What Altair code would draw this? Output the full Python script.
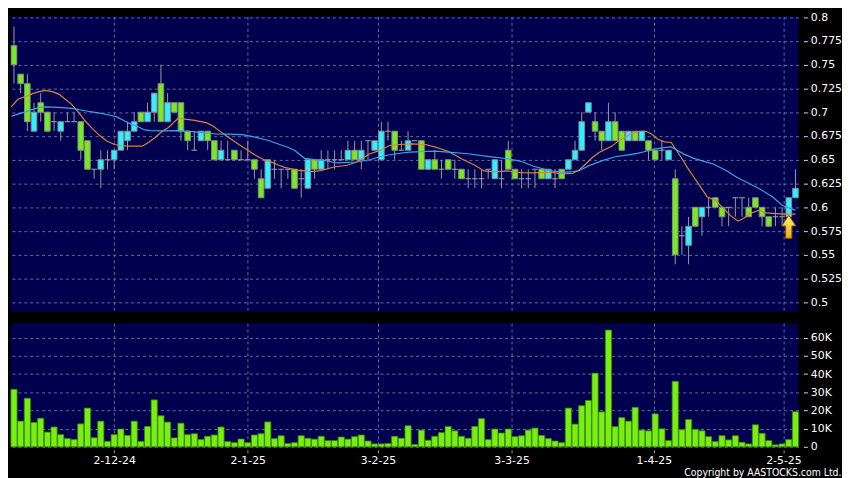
import altair as alt
import pandas as pd

# ---------------- data ----------------
opens = [
    .77, .74, .73, .68, .71, .70, .69, .68, .69, .69,
    .69, .67, .64, .64, .65, .65, .66, .67, .68, .70,
    .69, .70, .73, .69, .71, .71, .68, .66, .67, .68,
    .67, .65, .65, .66, .65, .65, .65, .63, .62, .64,
    .64, .64, .64, .63, .62, .65, .64, .65, .65, .65,
    .65, .66, .65, .67, .66, .65, .68, .68, .66, .66,
    .67, .67, .64, .65, .64, .65, .64, .64, .63, .63,
    .63, .64, .63, .63, .66, .64, .63, .63, .64, .64,
    .63, .63, .64, .64, .65, .66, .70, .69, .68, .67,
    .69, .68, .67, .68, .67, .67, .66, .66, .65, .63,
    .57, .56, .60, .59, .60, .61, .60, .60, .61, .61,
    .60, .61, .60, .59, .59, .59, .59, .61]
closes = [
    .75, .73, .69, .70, .70, .68, .69, .69, .69, .69,
    .66, .64, .64, .65, .65, .66, .68, .68, .69, .69,
    .70, .72, .69, .71, .70, .68, .67, .66, .68, .67,
    .65, .66, .65, .65, .65, .65, .64, .61, .65, .64,
    .64, .64, .62, .63, .65, .64, .65, .65, .65, .65,
    .66, .65, .66, .67, .67, .68, .68, .66, .66, .67,
    .67, .64, .65, .64, .64, .64, .64, .63, .63, .63,
    .63, .64, .65, .63, .64, .63, .63, .63, .64, .63,
    .64, .63, .63, .65, .66, .69, .71, .68, .67, .69,
    .67, .66, .68, .67, .68, .66, .65, .66, .66, .55,
    .57, .58, .58, .60, .60, .60, .59, .60, .61, .61,
    .59, .60, .59, .58, .59, .59, .61, .62]
highs = [
    .79, .74, .74, .71, .72, .70, .70, .69, .70, .70,
    .69, .67, .64, .66, .66, .66, .68, .69, .70, .70,
    .71, .72, .75, .72, .71, .71, .68, .68, .68, .68,
    .67, .67, .67, .66, .66, .67, .65, .64, .65, .65,
    .64, .64, .64, .64, .65, .65, .66, .66, .66, .66,
    .67, .67, .67, .67, .67, .69, .69, .68, .67, .68,
    .67, .67, .65, .66, .65, .65, .65, .64, .64, .64,
    .64, .64, .65, .65, .67, .64, .64, .64, .64, .64,
    .64, .64, .64, .65, .67, .70, .71, .70, .68, .71,
    .70, .68, .68, .68, .68, .67, .66, .67, .66, .64,
    .58, .59, .60, .60, .61, .61, .60, .60, .61, .61,
    .61, .61, .60, .59, .60, .60, .61, .64]
lows = [
    .73, .72, .68, .68, .69, .68, .68, .67, .69, .69,
    .65, .64, .63, .62, .64, .64, .66, .66, .68, .69,
    .69, .69, .69, .69, .70, .67, .66, .66, .67, .66,
    .65, .65, .65, .65, .65, .65, .63, .61, .62, .63,
    .62, .63, .62, .61, .62, .63, .64, .64, .64, .65,
    .65, .65, .64, .65, .66, .65, .67, .65, .66, .66,
    .67, .64, .64, .64, .63, .64, .63, .63, .62, .62,
    .62, .63, .63, .62, .64, .63, .62, .62, .62, .63,
    .63, .62, .63, .64, .65, .66, .70, .67, .66, .67,
    .67, .66, .67, .67, .67, .65, .65, .65, .65, .54,
    .55, .54, .58, .57, .59, .60, .58, .58, .59, .59,
    .59, .60, .58, .58, .58, .58, .59, .61]
vol_k = [
    31.6, 14.1, 26.7, 13.4, 15.7, 8.1, 10.9, 6.7, 4.5, 4.0,
    12.6, 21.3, 5.0, 14.1, 3.0, 6.7, 9.8, 6.3, 14.1, 3.0,
    11.2, 25.8, 17.1, 13.6, 4.9, 13.0, 6.7, 7.2, 4.0, 5.8,
    6.5, 10.9, 2.9, 2.3, 4.3, 2.3, 6.5, 7.2, 13.7, 4.5,
    6.1, 1.8, 2.3, 6.1, 4.7, 4.2, 5.8, 3.4, 3.4, 5.4,
    4.2, 5.6, 6.5, 3.2, 1.6, 1.6, 1.8, 5.8, 4.7, 11.6,
    1.3, 9.2, 3.6, 5.8, 7.8, 11.2, 8.8, 5.8, 4.7, 11.2,
    15.5, 4.0, 9.8, 7.6, 9.8, 5.6, 6.1, 9.2, 10.3, 6.3,
    4.5, 3.2, 2.3, 21.3, 12.5, 22.6, 25.5, 40.5, 19.2, 64.2,
    11.1, 16.1, 14.1, 21.7, 9.2, 8.8, 18.1, 9.9, 3.4, 36.0,
    9.4, 15.0, 9.6, 8.8, 5.6, 2.9, 6.1, 3.8, 6.1, 2.5,
    1.6, 12.1, 7.4, 3.4, 1.1, 1.6, 4.0, 19.3]

# moving averages (position in bars, price)
ma_short_pos = [-0.4, 0.58, 1.81, 2.79, 3.77, 4.75, 5.73, 6.71, 7.69, 8.67,
                9.65, 10.63, 11.86, 12.84, 13.82, 15.04, 16.02, 17.0, 17.99, 19.21,
                20.19, 21.17, 22.15, 23.13, 24.6, 25.58, 26.81, 27.79, 28.77, 29.75,
                30.73, 31.71, 32.69, 33.67, 34.65, 35.63, 36.61, 37.59, 38.57, 39.55,
                40.53, 41.51, 42.49, 43.47, 44.7, 45.92, 47.9, 49.9, 51.3, 53.3,
                54.8, 56.2, 57.7, 59.6, 61.6, 63.1, 65.0, 67.0, 69.0, 70.4,
                71.9, 73.9, 75.8, 77.8, 80.2, 82.2, 83.7, 84.6, 85.6, 86.6,
                87.6, 88.6, 89.6, 90.5, 91.5, 92.5, 93.5, 94.5, 95.4, 96.4,
                97.4, 98.4, 99.9, 100.8, 101.8, 102.8, 103.8, 105.0, 106.0, 107.2,
                108.4, 109.2, 110.2, 111.6, 112.6, 114.1, 115.6, 117.0]
ma_short_val = [0.7056, 0.7136, 0.7167, 0.7195, 0.7216, 0.723, 0.7216, 0.719, 0.7136, 0.708,
                0.700, 0.691, 0.682, 0.6754, 0.670, 0.666, 0.665, 0.6643, 0.6643, 0.6643,
                0.6684, 0.6736, 0.6796, 0.684, 0.6938, 0.6927, 0.6917, 0.6903, 0.689, 0.6858,
                0.6806, 0.6754, 0.6708, 0.666, 0.6615, 0.657, 0.6528, 0.6494, 0.6475, 0.6445,
                0.642, 0.6405, 0.639, 0.6382, 0.6375, 0.6385, 0.6424, 0.6442, 0.6476, 0.6563,
                0.6598, 0.665, 0.666, 0.6667, 0.666, 0.6632, 0.659, 0.6511, 0.6442, 0.6382,
                0.6372, 0.6382, 0.6365, 0.6361, 0.6368, 0.6351, 0.6358, 0.6392, 0.6455, 0.6524,
                0.6576, 0.6611, 0.6646, 0.6698, 0.674, 0.6774, 0.6795, 0.6802, 0.6774, 0.6715,
                0.6688, 0.6681, 0.6524, 0.642, 0.6316, 0.6212, 0.6108, 0.6073, 0.6003, 0.5917,
                0.5854, 0.5882, 0.5934, 0.5969, 0.5941, 0.5934, 0.5927, 0.5927]
ma_long_pos = [-0.4, 0.6, 1.8, 2.8, 3.8, 4.75, 6.7, 8.7, 10.6, 12.6,
               14.6, 15.5, 16.5, 17.5, 18.5, 19.5, 20.4, 22.4, 24.4, 26.3,
               28.3, 30.2, 32.2, 34.2, 36.1, 38.1, 40.0, 41.0, 42.0, 43.5,
               45.4, 46.6, 48.4, 51.3, 53.3, 55.2, 57.2, 59.2, 61.1, 63.1,
               65.0, 68.0, 70.9, 73.9, 75.8, 77.8, 80.2, 82.2, 83.7, 84.6,
               86.1, 88.1, 90.0, 92.0, 93.5, 94.5, 95.9, 97.4, 98.4, 100.3,
               101.8, 103.3, 104.7, 106.7, 108.2, 109.7, 111.6, 113.6, 115.0, 116.3,
               117.0]
ma_long_val = [0.6958, 0.698, 0.7006, 0.703, 0.705, 0.7056, 0.705, 0.7041, 0.7015, 0.6993,
               0.6965, 0.6948, 0.691, 0.6875, 0.685, 0.6816, 0.6806, 0.6803, 0.6806, 0.6799,
               0.6785, 0.6771, 0.677, 0.6764, 0.6737, 0.6702, 0.6655, 0.6632, 0.66, 0.6515,
               0.6498, 0.649, 0.6466, 0.6476, 0.65, 0.6539, 0.6563, 0.658, 0.6585, 0.659,
               0.658, 0.6563, 0.6535, 0.651, 0.6486, 0.6431, 0.6385, 0.6368, 0.6375, 0.6385,
               0.6438, 0.649, 0.6531, 0.6552, 0.6569, 0.6587, 0.6611, 0.6628, 0.6635, 0.6559,
               0.6514, 0.6483, 0.6455, 0.6385, 0.6316, 0.6264, 0.6194, 0.6108, 0.6021, 0.5986,
               0.597]

signal_pos = [116]
signal_price = [0.5794]

date_tick_pos = [15, 35, 54.5, 74.5, 95.8, 115.2]
date_tick_text = ["2-12-24", "2-1-25", "3-2-25", "3-3-25", "1-4-25", "2-5-25"]
price_ticks = [0.5, 0.525, 0.55, 0.575, 0.6, 0.625, 0.65, 0.675, 0.7, 0.725, 0.75, 0.775, 0.8]
vol_ticks = [0, 10, 20, 30, 40, 50, 60]

# ---------------- tables ----------------
df = pd.DataFrame({"i": list(range(len(opens))), "open": opens, "high": highs,
                   "low": lows, "close": closes, "vol": vol_k})
ma_s = pd.DataFrame({"i": ma_short_pos, "v": ma_short_val})
ma_l = pd.DataFrame({"i": ma_long_pos, "v": ma_long_val})
sig = pd.DataFrame({"i": signal_pos, "p": signal_price})

# ---------------- styling ----------------
FONT = "DejaVu Sans"
GRID = "#6a6aa0"
xscale = alt.Scale(domain=[-0.45, 117.45], nice=False, zero=False)
pscale = alt.Scale(domain=[0.4906, 0.8007], nice=False, zero=False)
vscale = alt.Scale(domain=[0, 68], nice=False, zero=False)

label_expr = " : ".join(f"datum.value == {p} ? '{t}'" for p, t in zip(date_tick_pos, date_tick_text)) + " : ''"

x_price_axis = alt.Axis(values=date_tick_pos, labels=False, ticks=False, domain=False,
                        grid=True, gridColor=GRID, gridDash=[3, 3], gridWidth=1, title=None)
x_vol_axis = alt.Axis(values=date_tick_pos, labelExpr=label_expr, ticks=True, tickSize=3,
                      tickColor="#9a9a9a", domain=False, grid=True, gridColor=GRID,
                      gridDash=[3, 3], gridWidth=1, title=None, labelColor="white",
                      labelFont=FONT, labelFontSize=11, labelPadding=2, offset=3,
                      labelFlush=False, labelOverlap=False)
y_price_axis = alt.Axis(orient="right", values=price_ticks, format=".3~f", title=None,
                        domain=False, tickSize=4, tickColor="#dddddd", offset=5,
                        labelPadding=3, labelColor="white", labelFont=FONT, labelFontSize=11,
                        grid=True, gridColor=GRID, gridDash=[3, 3], gridWidth=1,
                        labelFlush=False, labelOverlap=False)
y_vol_axis = alt.Axis(orient="right", values=vol_ticks,
                      labelExpr="datum.value == 0 ? '0' : datum.value + 'K'", title=None,
                      domain=False, tickSize=4, tickColor="#dddddd", offset=5,
                      labelPadding=3, labelColor="white", labelFont=FONT, labelFontSize=11,
                      grid=True, gridColor=GRID, gridDash=[3, 3], gridWidth=1,
                      labelFlush=False, labelOverlap=False)

base = alt.Chart(df).transform_calculate(
    xl="datum.i - 0.42", xr="datum.i + 0.42",
    dir="datum.close > datum.open ? 'up' : 'down'")

wicks = base.mark_rule(color="#9a9a9a", strokeWidth=1).encode(
    x=alt.X("i:Q", scale=xscale, axis=x_price_axis),
    y=alt.Y("low:Q", scale=pscale, axis=y_price_axis),
    y2="high:Q")

bodies = base.transform_filter("datum.open != datum.close").mark_rect(
    stroke="#8a8a8a", strokeWidth=1).encode(
    x=alt.X("xl:Q", scale=xscale, axis=x_price_axis),
    x2="xr:Q",
    y=alt.Y("open:Q", scale=pscale, axis=y_price_axis),
    y2="close:Q",
    color=alt.Color("dir:N", scale=alt.Scale(domain=["up", "down"],
                                             range=["#2ef0ff", "#76ec1e"]), legend=None))

dojis = base.transform_filter("datum.open == datum.close").mark_rule(
    color="#a8a8a8", strokeWidth=1).encode(
    x=alt.X("xl:Q", scale=xscale, axis=x_price_axis),
    x2="xr:Q",
    y=alt.Y("open:Q", scale=pscale, axis=y_price_axis))

line_s = alt.Chart(ma_s).mark_line(color="#d9843c", strokeWidth=1.2).encode(
    x=alt.X("i:Q", scale=xscale, axis=x_price_axis),
    y=alt.Y("v:Q", scale=pscale, axis=y_price_axis))
line_l = alt.Chart(ma_l).mark_line(color="#3ea2e6", strokeWidth=1.2).encode(
    x=alt.X("i:Q", scale=xscale, axis=x_price_axis),
    y=alt.Y("v:Q", scale=pscale, axis=y_price_axis))

arrow_path = "M0,-1 L0.62,-0.08 L0.27,-0.08 L0.27,1 L-0.27,1 L-0.27,-0.08 L-0.62,-0.08 Z"
arrow = alt.Chart(sig).mark_point(
    shape=arrow_path, filled=True, size=540, opacity=1,
    fill=alt.Gradient(gradient="linear", x1=0, y1=0, x2=0, y2=1,
                      stops=[alt.GradientStop(color="#fff27a", offset=0),
                             alt.GradientStop(color="#f4a814", offset=1)]),
    stroke="#7a5a00", strokeWidth=1).encode(
    x=alt.X("i:Q", scale=xscale, axis=x_price_axis),
    y=alt.Y("p:Q", scale=pscale, axis=y_price_axis))

price = alt.layer(wicks, bodies, dojis, line_s, line_l, arrow).properties(width=796, height=298)

volume = alt.Chart(df).transform_calculate(
    xl="datum.i - 0.46", xr="datum.i + 0.46").mark_rect(
    fill="#78ee12", stroke="#3d8c00", strokeWidth=0.8).encode(
    x=alt.X("xl:Q", scale=xscale, axis=x_vol_axis),
    x2="xr:Q",
    y=alt.Y("vol:Q", scale=vscale, axis=y_vol_axis),
    y2=alt.datum(0)).properties(width=796, height=125)

chart = alt.vconcat(price, volume, spacing=12).resolve_scale(
    x="independent", y="independent").properties(
    padding={"left": 0, "top": 0, "right": 0, "bottom": 0},
    background="black",
    title=alt.TitleParams("Copyright by AASTOCKS.com Ltd.", orient="bottom", anchor="end",
                          color="white", fontSize=10.5, fontWeight="normal",
                          font="DejaVu Sans Condensed, DejaVu Sans", offset=2)
).configure_view(fill="#00004e", strokeWidth=0)

chart.save("out.html", embed_options={"renderer": "svg", "actions": False})
